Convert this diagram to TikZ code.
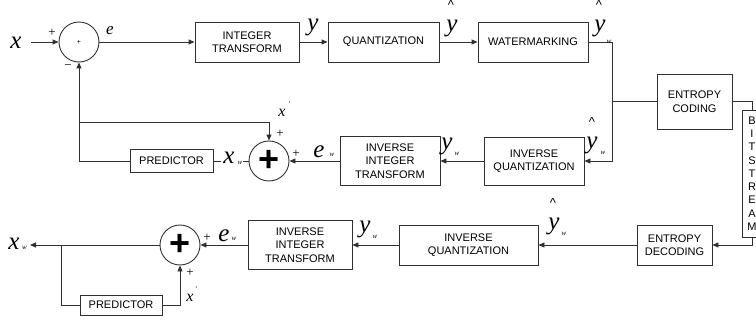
\documentclass[tikz,border=0pt]{standalone}
\usepackage{fontspec}
\setmainfont{Liberation Serif}
\setsansfont{Liberation Sans}
\usepackage{graphicx}
\usetikzlibrary{arrows.meta}
\definecolor{lc}{HTML}{303030}
\tikzset{
 blk/.style={draw=lc, line width=0.9pt, font=\sffamily\fontsize{11}{13.5}\selectfont, align=center, inner sep=0pt},
 sumc/.style={circle, draw=lc, line width=0.9pt, minimum size=40pt, inner sep=0pt},
 big/.style={font=\itshape\fontsize{25}{25}\selectfont, inner sep=0pt},
 mid/.style={font=\itshape\fontsize{16}{16}\selectfont, inner sep=0pt},
 sub/.style={font=\itshape\fontsize{7}{7}\selectfont, inner sep=0pt},
 sgn/.style={font=\fontsize{13}{13}\selectfont, inner sep=0pt},
 hatc/.style={font=\sffamily\fontsize{13}{13}\selectfont, inner sep=0pt},
 wire/.style={draw=lc, line width=0.9pt},
 arr/.style={wire, -{Triangle[length=6pt,width=5pt]}},
}
\begin{document}
\begin{tikzpicture}[x=1pt,y=-1pt]
\useasboundingbox (0,0) rectangle (756,321);
\clip (0,0) rectangle (756,321);
% blocks
\node[sumc] (s1) at (79,42) {\sffamily\fontsize{7}{7}\selectfont +};
\node[blk, minimum width=104pt, minimum height=40pt] (it) at (247,42) {INTEGER\\TRANSFORM};
\node[blk, minimum width=111pt, minimum height=40pt] (q) at (383.5,42) {QUANTIZATION};
\node[blk, minimum width=110pt, minimum height=40pt] (wm) at (533,42) {WATERMARKING};
\node[blk, minimum width=75pt, minimum height=55pt] (ec) at (694.5,101.5) {ENTROPY\\CODING};
\node[blk, minimum width=20pt, minimum height=127pt, font=\sffamily\fontsize{11}{13.25}\selectfont] (bs) at (752,173.5) {B\\I\\T\\S\\T\\R\\E\\A\\M};
\node[blk, minimum width=100pt, minimum height=48pt] (iq) at (534,161) {INVERSE\\QUANTIZATION};
\node[blk, minimum width=100pt, minimum height=49pt] (iit) at (390,161) {INVERSE\\INTEGER\\TRANSFORM};
\node[sumc] (s2) at (269,161) {\sffamily\bfseries\fontsize{36}{36}\selectfont +};
\node[blk, minimum width=83pt, minimum height=23pt] (p1) at (171.5,161) {PREDICTOR};
\node[blk, minimum width=75pt, minimum height=40pt] (ed) at (674.5,245) {ENTROPY\\DECODING};
\node[blk, minimum width=139pt, minimum height=40pt] (iq2) at (468.5,245) {INVERSE\\QUANTIZATION};
\node[blk, minimum width=104pt, minimum height=49pt] (iit2) at (300,245) {INVERSE\\INTEGER\\TRANSFORM};
\node[sumc] (s3) at (180,245) {\sffamily\bfseries\fontsize{36}{36}\selectfont +};
\node[blk, minimum width=82pt, minimum height=20pt] (p2) at (121,305) {PREDICTOR};
% coordinates
\coordinate (xin) at (31,42);
\coordinate (wmr) at (612,42);
\coordinate (br) at (612,101.5);
\coordinate (bsb) at (752,245);
\coordinate (xo) at (30,245);
\coordinate (tap) at (61,245);
\coordinate (fb) at (79,161);
\coordinate (fb2) at (79,122);
% connectors
\draw[arr] (xin) -- (s1.west);
\draw[arr] (s1.east) -- (it.west);
\draw[arr] (it.east) -- (q.west);
\draw[arr] (q.east) -- (wm.west);
\draw[arr] (wm.east) -- (wmr) |- (iq.east);
\draw[wire] (br) -- (ec.west);
\draw[wire] (ec.east) -| (bs.north);
\draw[arr] (bs.south) -- (bsb) -- (ed.east);
\draw[arr] (ed.west) -- (iq2.east);
\draw[arr] (iq2.west) -- (iit2.east);
\draw[arr] (iit2.west) -- (s3.east);
\draw[arr] (s3.west) -- (xo);
\draw[wire] (tap) |- (p2.west);
\draw[arr] (p2.east) -| (s3.south);
\draw[arr] (iq.west) -- (iit.east);
\draw[arr] (iit.west) -- (s2.east);
\draw[wire] (s2.west) -- (p1.east);
\draw[arr] (p1.west) -- (fb) -- (s1.south);
\draw[arr] (fb2) -| (s2.north);
% labels top row
\node[big] (lx) at (16,43) {x};
\node[sgn] (pl1) at (52,33) {+};
\node[sgn] (mn1) at (68,67) {−};
\node[font=\itshape\fontsize{17}{17}\selectfont, inner sep=0pt] (le) at (110,31) {e};
\node[big] (ly) at (313,27) {y};
\node[big] (lyh) at (452,28) {y};
\node[hatc] (h1) at (451,5) {\textasciicircum};
\node[big] (lyw) at (600,28) {y};
\node[hatc] (h2) at (599,5) {\textasciicircum};
\node[sub] (w1) at (609,42) {w};
% labels middle row
\node[big] (lyw2) at (592,145) {y};
\node[hatc] (h3) at (592,122) {\textasciicircum};
\node[sub] (w2) at (603,153) {w};
\node[big] (lyw3) at (447,146) {y};
\node[sub] (w3) at (457,154) {w};
\node[big] (lew) at (319,152) {e};
\node[sub] (w4) at (332,155) {w};
\node[sgn] (pl2) at (296,154) {+};
\node[sgn] (pl3) at (280,134) {+};
\node[mid] (lxp) at (282,113) {x};
\node[sub] (pr1) at (289,104) {'};
\node[big, fill=white, inner xsep=2pt] (lxw) at (229,158) {x};
\node[sub, fill=white, inner sep=1pt] (w5) at (240,163) {w};
% labels bottom row
\node[big] (lxw2) at (14,244) {x};
\node[sub] (w6) at (24.5,248) {w};
\node[sgn] (pl4) at (207,238) {+};
\node[big] (lew2) at (224,236) {e};
\node[sub] (w7) at (234,239) {w};
\node[sgn] (pl5) at (190,273) {+};
\node[mid] (lxp2) at (190,298) {x};
\node[sub] (pr2) at (196,289) {'};
\node[big] (lyw4) at (365,229) {y};
\node[sub] (w8) at (375,237) {w};
\node[big] (lyw5) at (554,226) {y};
\node[hatc] (h4) at (553,203) {\textasciicircum};
\node[sub] (w9) at (564,234) {w};
\end{tikzpicture}
\end{document}
